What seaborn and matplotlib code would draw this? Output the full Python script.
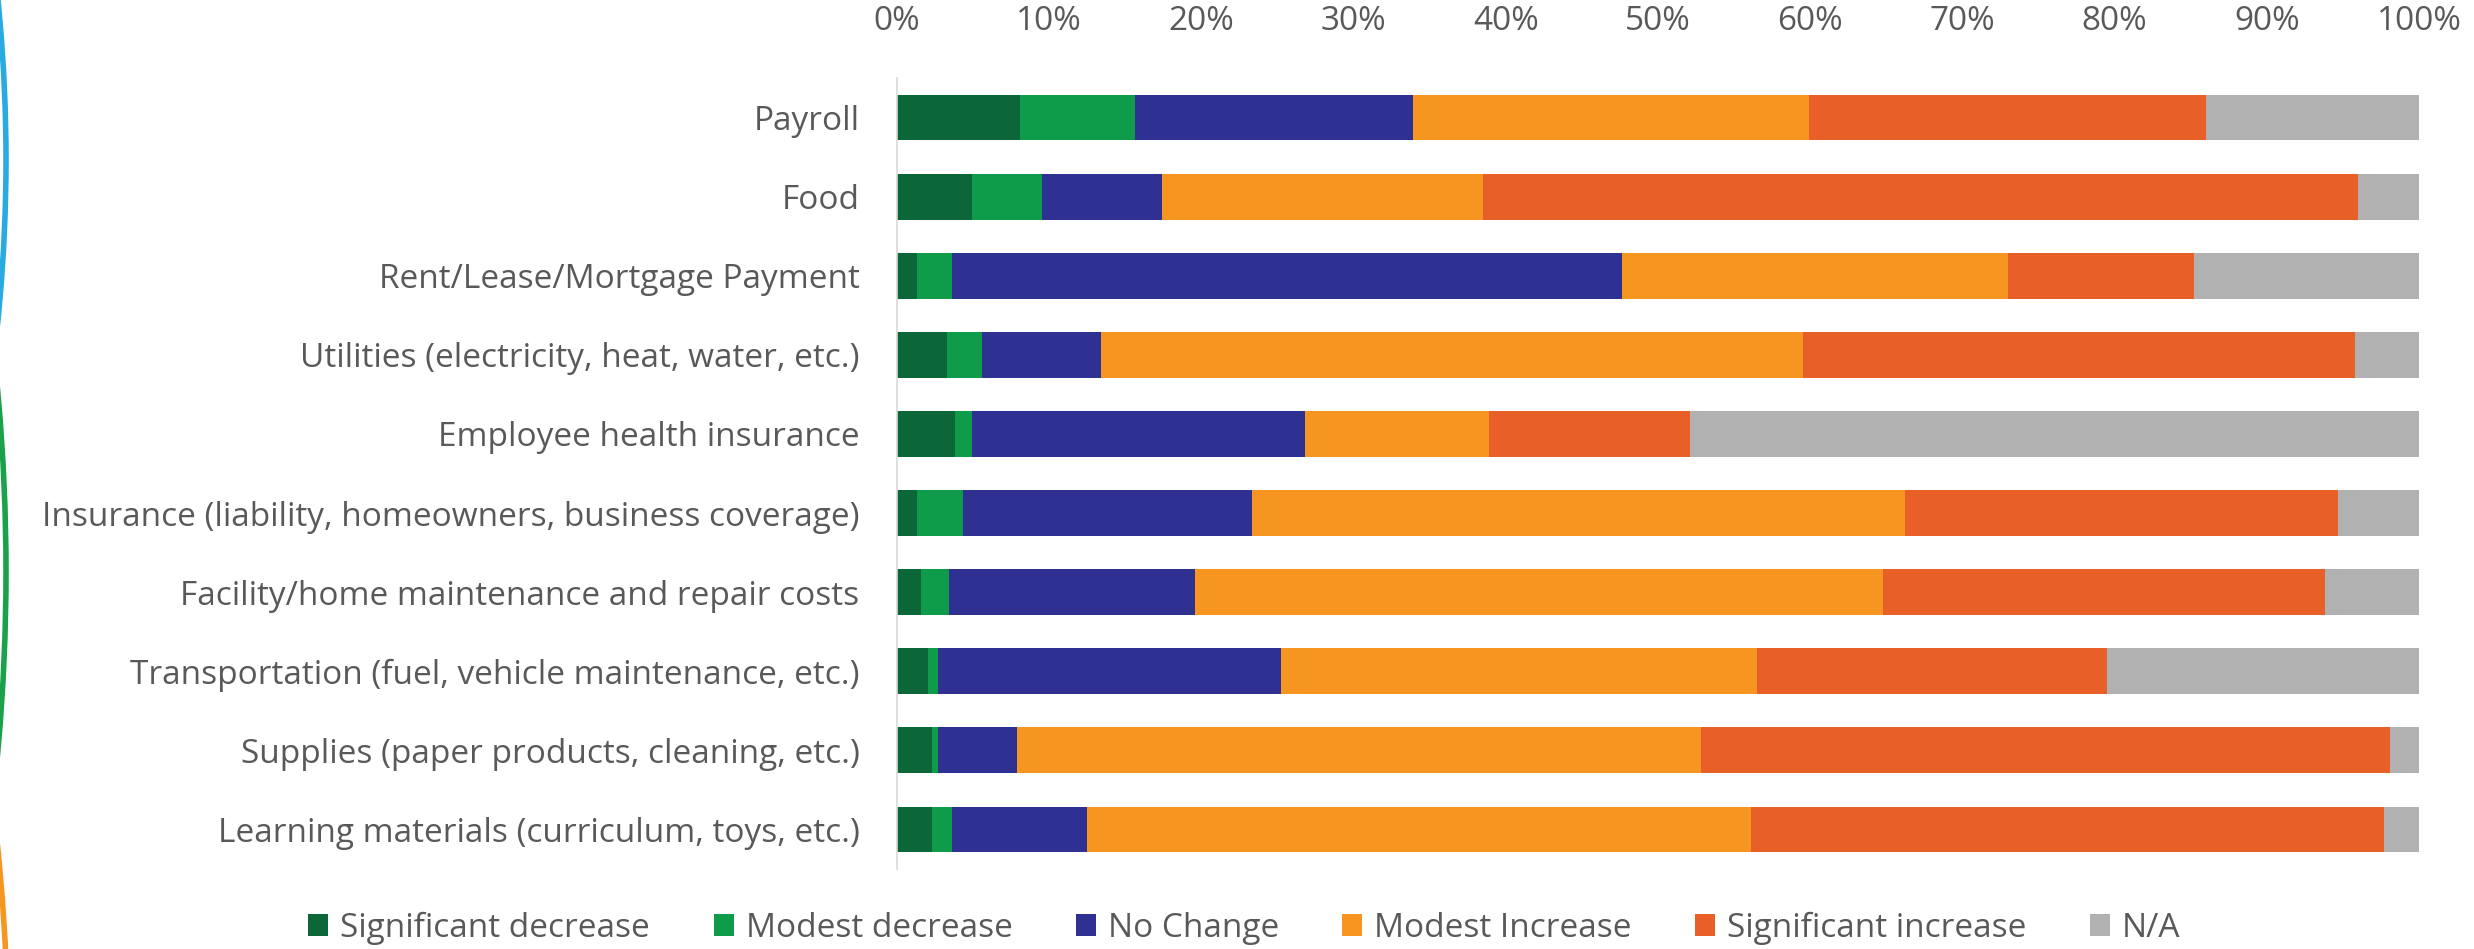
import numpy as np
import pandas as pd
import seaborn as sns
import matplotlib.pyplot as plt
from matplotlib.patches import Patch, Arc

# Categories (top to bottom)
categories = [
    "Payroll",
    "Food",
    "Rent/Lease/Mortgage Payment",
    "Utilities (electricity, heat, water, etc.)",
    "Employee health insurance",
    "Insurance (liability, homeowners, business coverage)",
    "Facility/home maintenance and repair costs",
    "Transportation (fuel, vehicle maintenance, etc.)",
    "Supplies (paper products, cleaning, etc.)",
    "Learning materials (curriculum, toys, etc.)",
]

# Share of responses (%) per answer
significant_decrease = [8.1, 4.9, 1.3, 3.3, 3.8, 1.3, 1.6, 2.0, 2.3, 2.3]
modest_decrease = [7.5, 4.6, 2.3, 2.3, 1.1, 3.0, 1.8, 0.7, 0.4, 1.3]
no_change = [18.3, 7.9, 44.0, 7.8, 21.9, 19.0, 16.2, 22.5, 5.2, 8.9]
modest_increase = [26.0, 21.1, 25.4, 46.1, 12.1, 42.9, 45.2, 31.3, 44.9, 43.6]
significant_increase = [26.1, 57.5, 12.2, 36.3, 13.2, 28.5, 29.0, 23.0, 45.3, 41.6]
not_applicable = [14.0, 4.0, 14.8, 4.2, 47.9, 5.3, 6.2, 20.5, 1.9, 2.3]

series_names = ["Significant decrease", "Modest decrease", "No Change",
                "Modest Increase", "Significant increase", "N/A"]
series_colors = ["#0B6738", "#0E9C4A", "#2E3192", "#F6951F", "#E85F28", "#B1B1B1"]
tick_labels = ["0%", "10%", "20%", "30%", "40%", "50%", "60%", "70%", "80%", "90%", "100%"]

df = pd.DataFrame({
    "category": categories,
    "Significant decrease": significant_decrease,
    "Modest decrease": modest_decrease,
    "No Change": no_change,
    "Modest Increase": modest_increase,
    "Significant increase": significant_increase,
    "N/A": not_applicable,
})

# cumulative totals -> draw largest first so segments stack visually
cum = df[series_names].cumsum(axis=1)

sns.set_style("white")
plt.rcParams["font.family"] = ["Open Sans", "DejaVu Sans"]
text_color = "#595959"
fs = 24

fig = plt.figure(figsize=(24.74, 9.49), dpi=100)
ax = fig.add_axes([0.3626, 0.0843, 0.9778 - 0.3626, 0.9178 - 0.0843])

for name, color in zip(reversed(series_names), reversed(series_colors)):
    sns.barplot(
        x=cum[name], y=df["category"], orient="h",
        color=color, saturation=1, width=0.58,
        linewidth=0, edgecolor="none", ax=ax,
    )

ax.set_xlim(0, 100)
ax.set_ylim(9.5, -0.5)
ax.set_xticks(np.arange(0, 101, 10))
ax.set_xticklabels(tick_labels)
ax.xaxis.tick_top()
ax.tick_params(axis="x", length=0, pad=29, labelsize=fs, labelcolor=text_color)
ax.tick_params(axis="y", length=0, pad=27, labelsize=fs, labelcolor=text_color)
ax.set_xlabel("")
ax.set_ylabel("")

for side in ["top", "right", "bottom"]:
    ax.spines[side].set_visible(False)
ax.spines["left"].set_color("#D9D9D9")
ax.spines["left"].set_linewidth(1.2)

handles = [Patch(facecolor=c, edgecolor="none", label=n) for n, c in zip(series_names, series_colors)]
fig.legend(
    handles=handles, loc="center", bbox_to_anchor=(0.503, 0.022), ncol=6,
    frameon=False, fontsize=fs, labelcolor=text_color,
    handlelength=0.6, handleheight=0.66, handletextpad=0.36, columnspacing=1.9,
)

# decorative arcs on the left edge
inch = fig.dpi_scale_trans
for peak_y, r, peak_x, color in [(160, 1600, 6, "#29ABE2"), (572, 1980, 6, "#1BA14B"), (1050, 2000, 8, "#F6951F")]:
    cx = (peak_x - r) / 100
    cy = (949 - peak_y) / 100
    fig.add_artist(Arc((cx, cy), 2 * r / 100, 2 * r / 100, transform=inch,
                       color=color, linewidth=4, theta1=-20, theta2=20))

fig.savefig("out.png", dpi=100)
plt.close(fig)
